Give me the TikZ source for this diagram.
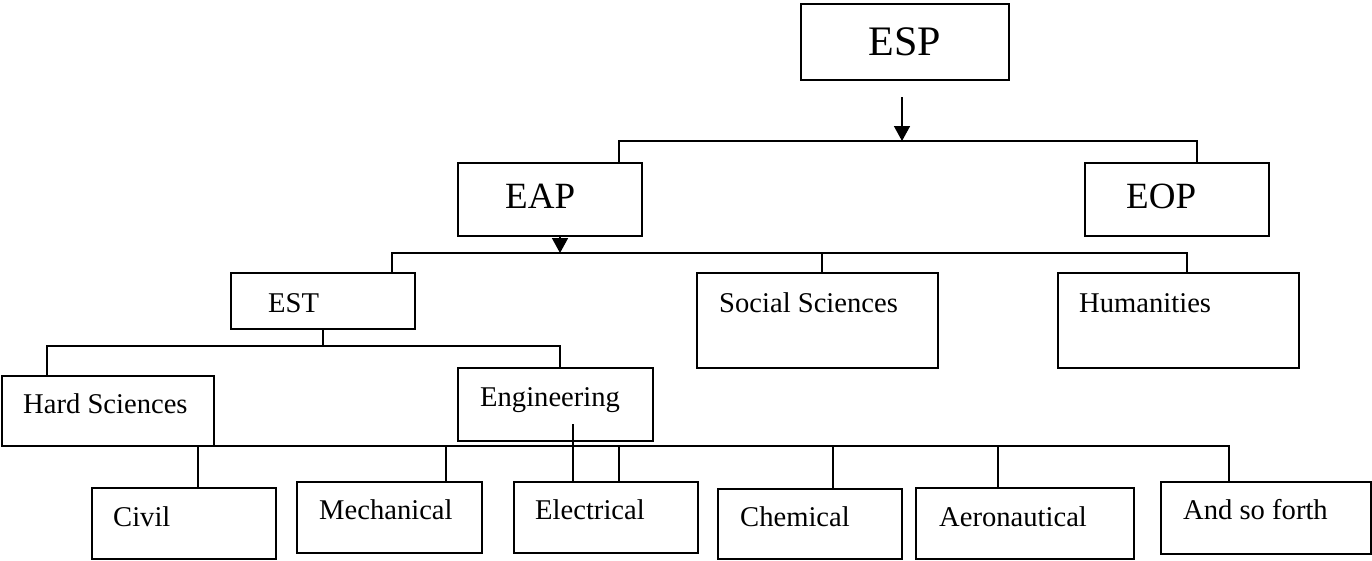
\documentclass[tikz,border=0pt]{standalone}
\usepackage{fontspec}
\setmainfont{Liberation Serif}
\usetikzlibrary{arrows.meta}

\begin{document}
\begin{tikzpicture}[x=1pt,y=-1pt,
  box/.style n args={2}{draw=black, line width=1.8pt, fill=none, inner sep=0pt,
    outer sep=0pt, anchor=north west, minimum width=#1pt, minimum height=#2pt},
  lbl/.style={inner sep=0pt, anchor=base west, font=\fontsize{28.6}{32}\selectfont},
  midlbl/.style={lbl, font=\fontsize{37}{42}\selectfont},
  link/.style={draw=black, line width=1.6pt},
  tip/.style={link, -{Triangle[width=16pt,length=15pt]}}]
\useasboundingbox (0,0) rectangle (1372,560);

% top level
\node[box={208}{76}, font=\fontsize{42}{48}\selectfont] (esp) at (801,4) {ESP};

% second level
\node[box={184}{73}] (eap) at (458,163) {};
\node[midlbl] (eapt) at (505,208) {EAP};
\node[box={184}{73}] (eop) at (1085,163) {};
\node[midlbl] (eopt) at (1126,208) {EOP};

% third level
\node[box={184}{56}] (est) at (231,273) {};
\node[lbl] (estt) at (268,312) {EST};
\node[box={241}{95}] (soc) at (697,273) {};
\node[lbl] (soct) at (719,312) {Social Sciences};
\node[box={241}{95}] (hum) at (1058,273) {};
\node[lbl] (humt) at (1079,312) {Humanities};

% fourth level
\node[box={212}{70}] (hard) at (2,376) {};
\node[lbl] (hardt) at (23,413) {Hard Sciences};
\node[box={195}{73}] (eng) at (458,368) {};
\node[lbl] (engt) at (480,406) {Engineering};

% branches of engineering
\node[box={184}{71}] (civ) at (92,488) {};
\node[lbl] (civt) at (113,526) {Civil};
\node[box={185}{71}] (mech) at (297,482) {};
\node[lbl] (mecht) at (319,519) {Mechanical};
\node[box={184}{71}] (elec) at (514,482) {};
\node[lbl] (elect) at (535,519) {Electrical};
\node[box={184}{70}] (chem) at (718,489) {};
\node[lbl] (chemt) at (740,526) {Chemical};
\node[box={218}{71}] (aero) at (916,488) {};
\node[lbl] (aerot) at (939,526) {Aeronautical};
\node[box={210}{72}] (asf) at (1161,482) {};
\node[lbl] (asft) at (1183,519) {And so forth};

% junction points
\coordinate (a0) at (902,97);
\coordinate (j1) at (902,141);
\coordinate (j2) at (560,253);
\coordinate (j3) at (323,346);
\coordinate (busR) at (1229,446);
\coordinate (engdn) at (573,424);

% entry points on the tops of the boxes
\coordinate (eapin) at ([xshift=69pt]eap.north);
\coordinate (eopin) at ([xshift=20pt]eop.north);
\coordinate (estin) at ([xshift=69pt]est.north);
\coordinate (socin) at ([xshift=4.5pt]soc.north);
\coordinate (humin) at ([xshift=8.5pt]hum.north);
\coordinate (hardin) at ([xshift=-61pt]hard.north);
\coordinate (engin) at ([xshift=4.5pt]eng.north);
\coordinate (civin) at ([xshift=14pt]civ.north);
\coordinate (mechin) at ([xshift=56.5pt]mech.north);
\coordinate (elecin) at ([xshift=13pt]elec.north);
\coordinate (elecin2) at ([xshift=-33pt]elec.north);
\coordinate (chemin) at ([xshift=23pt]chem.north);
\coordinate (aeroin) at ([xshift=-27pt]aero.north);
\coordinate (asfin) at ([xshift=-37pt]asf.north);

% ESP -> EAP / EOP
\draw[tip] (a0) -- (j1);
\draw[link] (eapin) |- (j1) -| (eopin);

% EAP -> EST / Social Sciences / Humanities
\draw[tip] ([xshift=10pt]eap.south) -- (j2);
\draw[link] (estin) |- (j2) -| (humin);
\draw[link] (socin) -- (socin |- j2);

% EST -> Hard Sciences / Engineering
\draw[link] (est.south) -- (est.south |- j3);
\draw[link] (hardin) |- (j3) -| (engin);

% bus to the branches
\draw[link] (civin) |- (busR) -| (asfin);
\draw[link] (mechin) -- (mechin |- busR);
\draw[link] (elecin) -- (elecin |- busR);
\draw[link] (chemin) -- (chemin |- busR);
\draw[link] (aeroin) -- (aeroin |- busR);
\draw[link] (engdn) -- (elecin2);
\end{tikzpicture}
\end{document}
